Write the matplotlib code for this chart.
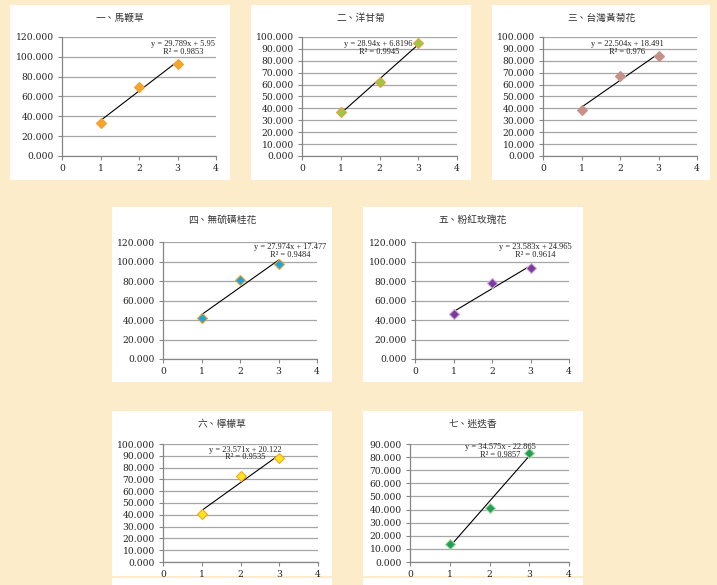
import numpy as np
import matplotlib.pyplot as plt
from matplotlib.patches import Rectangle

plt.rcParams['font.family'] = ['DejaVu Serif']

W, H = 717, 585
BG = '#FCECC9'

# data
x_vals = [1, 2, 3]
titles = ['一、馬鞭草', '二、洋甘菊', '三、台灣黃菊花', '四、無硫磺桂花',
          '五、粉紅玫瑰花', '六、檸檬草', '七、迷迭香']
y_mabiancao = [33.64, 69.73, 93.22]
y_yanggan = [37.00, 62.21, 94.88]
y_huangju = [38.96, 67.57, 83.97]
y_guihua = [41.68, 80.96, 97.63]
y_meigui = [45.82, 77.59, 92.99]
y_ningmeng = [40.69, 73.27, 87.83]
y_midie = [14.11, 41.48, 83.26]
eq_labels = ['y = 29.789x + 5.95\nR² = 0.9853',
             'y = 28.94x + 6.8196\nR² = 0.9945',
             'y = 22.504x + 18.491\nR² = 0.976',
             'y = 27.974x + 17.477\nR² = 0.9484',
             'y = 23.583x + 24.965\nR² = 0.9614',
             'y = 23.571x + 20.122\nR² = 0.9535',
             'y = 34.575x - 22.865\nR² = 0.9857']
y_tops = [120, 100, 100, 120, 120, 100, 90]
y_steps = [20, 10, 10, 20, 20, 10, 10]

all_y = [y_mabiancao, y_yanggan, y_huangju, y_guihua, y_meigui, y_ningmeng, y_midie]

# layout in pixels: white panel box and plot area (left, top, right, bottom)
panels = [(10, 5, 230, 180), (251, 5, 471, 180), (492, 5, 710, 180),
          (112, 207, 332, 382), (363, 207, 583, 382),
          (112, 411, 332, 576), (363, 411, 583, 576)]
plot_areas = [(62, 37, 216, 156), (302, 37, 457, 156), (543, 37, 697, 156),
              (163, 242, 317, 359), (415, 242, 569, 359),
              (163, 444, 318, 562), (410, 444, 569, 562)]
label_pos = [(3.15, 109), (1.98, 91), (2.18, 91), (3.3, 111), (3.12, 111),
             (2.12, 92), (2.28, 84.5)]
face_cols = ['#F5A52E', '#9CC845', '#C69189', '#1AA6DA', '#7A3A9E', '#FFE51E', '#21A053']
edge_cols = ['#F0A030', '#E8A040', '#C69189', '#F0A030', '#C8A8D8', '#F5A623', '#A8D8A8']

fig = plt.figure(figsize=(W / 100, H / 100), dpi=100)
fig.patch.set_facecolor(BG)

def fig_rect(l, t, r, b):
    return [l / W, 1 - b / H, (r - l) / W, (b - t) / H]

for (l, t, r, b) in panels:
    fig.patches.append(Rectangle((l / W, 1 - b / H), (r - l) / W, (b - t) / H,
                                 transform=fig.transFigure, facecolor='white',
                                 edgecolor='none', zorder=-5))
# bits of white below the last row
for l, r in [(112, 332), (363, 583)]:
    fig.patches.append(Rectangle((l / W, 0), (r - l) / W, 7 / H,
                                 transform=fig.transFigure, facecolor='white',
                                 edgecolor='none', zorder=-5))

for i in range(7):
    ax = fig.add_axes(fig_rect(*plot_areas[i]))
    ax.set_facecolor('none')
    y = np.array(all_y[i])
    ax.set_xlim(0, 4)
    ax.set_ylim(0, y_tops[i])
    ax.set_xticks(range(5))
    ax.set_yticks(np.arange(0, y_tops[i] + 1, y_steps[i]))
    ax.yaxis.set_major_formatter(plt.FormatStrFormatter('%.3f'))
    ax.grid(axis='y', color='#A6A6A6', lw=0.9)
    ax.set_axisbelow(True)
    for s in ['top', 'right']:
        ax.spines[s].set_visible(False)
    for s in ['left', 'bottom']:
        ax.spines[s].set_color('#868686')
        ax.spines[s].set_linewidth(0.9)
    ax.tick_params(length=3, width=0.8, color='#868686', labelsize=6.6,
                   labelcolor='#222222', pad=3)

    # linear trendline
    a, b = np.polyfit(x_vals, y, 1)
    xf = np.array([1, 3])
    ax.plot(xf, a * xf + b, color='black', lw=0.8, zorder=3)
    ax.plot(x_vals, y, linestyle='none', marker='D', markersize=5.6,
            markerfacecolor=face_cols[i], markeredgecolor=edge_cols[i],
            markeredgewidth=0.8, zorder=4, clip_on=False)
    ax.text(label_pos[i][0], label_pos[i][1], eq_labels[i], fontsize=6,
            family='Liberation Serif', ha='center', va='center',
            multialignment='center', linespacing=0.95, color='#222222', zorder=5)

    l, t, r, bt = panels[i]
    fig.text((l + r) / 2 / W, 1 - (t + 13) / H, titles[i], fontsize=7,
             family=['Noto Sans CJK TC', 'DejaVu Sans'], ha='center', va='center',
             color='#333333')

fig.savefig('out.png', dpi=100, facecolor=BG)
